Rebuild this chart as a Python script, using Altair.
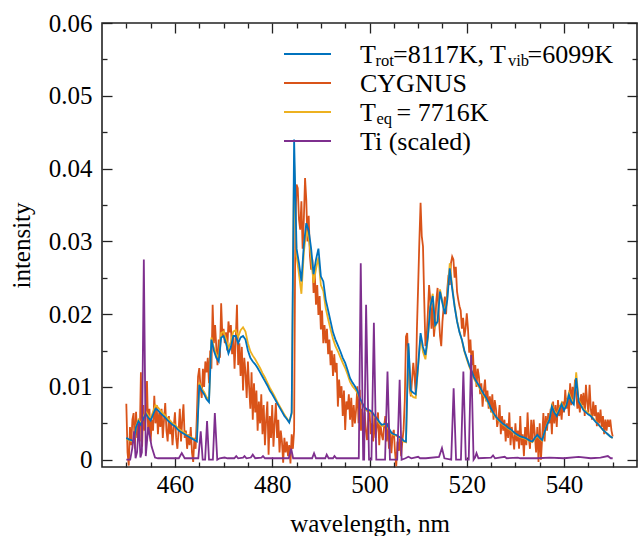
import altair as alt
import pandas as pd

FONT = "Liberation Serif"

# ---------------- data (intensity values in units of 1e-3) ----------------
# CYGNUS measured spectrum, 450.00 ... 550.00 nm, every 0.25 nm
cyg_start = 450.0
cyg_step = 0.25
cygnus_e3 = [
    7.7, 1.0, -0.8, 4.5, 2.0, 5.5, 6.4, 1.5, 6.6, 3.0, 5.0, 2.5, 12.0, 1.8, 7.5, 4.0, 6.0, 10.8, 3.5, 7.0,
    2.5, 5.5, 4.0, 8.8, 5.0, 7.5, 3.5, 6.5, 4.5, 7.0, 3.0, 5.5, 7.8, 4.0, 2.5, 6.0, 3.5, 5.0, 2.0, 4.5,
    6.5, 3.0, 1.5, 4.0, 7.0, 2.5, 5.5, 7.6, 3.0, 4.0, 1.5, 3.5, 2.0, 4.5, 1.0, -0.3, 3.0, 1.5, 6.0, 11.4,
    12.6, 10.0, 8.5, 12.5, 10.0, 13.5, 12.0, 14.0, 10.5, 15.0, 12.5, 21.3, 16.0, 18.5, 15.5, 13.0, 16.5, 14.0, 21.5, 17.0,
    18.0, 16.0, 17.5, 15.0, 19.0, 17.5, 18.5, 14.5, 17.0, 12.5, 16.5, 21.3, 13.0, 16.0, 11.5, 15.5, 9.5, 14.0, 12.0, 8.5,
    13.5, 10.0, 7.0, 12.0, 5.5, 10.5, 6.5, 9.5, 4.0, 8.0, 5.0, 9.0, 3.5, 7.5, 2.0, 5.5, 8.0, 0.7, 6.0, 3.0,
    7.5, 1.8, 5.0, 7.8, 3.0, 5.5, 1.0, 4.0, 2.5, -0.4, 3.0, 1.0, 2.5, 0.5, 2.0, -0.5, 3.5, 1.5, 4.0, 32.0,
    37.8, 37.3, 33.0, 31.6, 35.5, 29.0, 33.0, 38.7, 35.7, 30.0, 33.5, 28.0, 26.1, 27.5, 22.9, 25.5, 21.3, 24.0, 19.9, 22.5,
    17.9, 20.5, 16.0, 18.5, 16.0, 18.0, 14.5, 16.5, 13.0, 15.0, 11.5, 14.5, 12.0, 13.3, 7.3, 11.0, 8.5, 10.1, 6.0, 9.5,
    4.1, 8.0, 6.9, 9.0, 5.5, 8.5, 4.5, 7.5, 5.0, 6.9, 10.1, 5.0, 9.6, 4.0, 7.0, 2.7, 6.5, 4.0, 2.7, 5.5,
    6.9, 3.5, 5.0, 2.5, 6.0, 3.0, 4.5, 6.5, 2.0, 5.0, 3.5, 2.7, 4.5, 6.0, 2.5, 5.0, 1.5, 4.0, 0.9, 3.5,
    4.1, 1.0, -0.9, 2.5, 1.2, 3.0, 0.5, 2.5, 4.1, 8.0, 16.9, 17.4, 13.0, 10.0, 8.7, 11.0, 13.3, 11.5, 9.2, 18.0,
    23.8, 30.0, 35.3, 30.7, 29.3, 22.0, 15.6, 16.9, 20.1, 24.0, 22.0, 18.0, 21.5, 16.9, 18.8, 22.0, 23.6, 19.9, 17.0, 15.6,
    19.0, 21.0, 22.4, 20.0, 23.5, 25.4, 24.0, 27.0, 27.9, 27.5, 25.0, 26.5, 23.1, 22.0, 21.1, 20.5, 18.0, 19.5, 16.9, 18.0,
    20.1, 18.0, 14.7, 16.5, 13.0, 15.0, 11.4, 13.0, 10.0, 12.5, 11.4, 9.0, 10.5, 7.3, 9.5, 11.0, 8.0, 9.5, 7.0, 8.7,
    6.5, 9.0, 5.5, 8.2, 7.0, 4.5, 5.5, 7.5, 3.5, 6.0, 4.0, 5.5, 2.5, 5.0, 3.0, 6.5, 2.0, 4.5, 3.0, 1.4,
    5.0, 2.5, 4.0, 1.5, 6.0, 2.0, 3.5, 0.5, 4.5, 2.0, 6.5, 3.0, 1.5, 5.5, 2.5, 5.5, 3.5, 1.0, 4.5, -0.3,
    5.0, 0.0, 3.0, 6.4, 2.5, 6.0, 4.0, 6.4, 5.0, 7.0, 3.5, 8.0, 5.0, 7.5, 4.5, 8.2, 6.0, 7.5, 5.5, 8.0,
    6.5, 9.6, 7.0, 8.5, 6.0, 10.5, 7.5, 10.0, 8.2, 11.0, 9.0, 7.0, 8.5, 6.5, 9.0, 7.5, 9.2, 6.0, 10.3, 8.0,
    6.5, 10.3, 7.0, 5.5, 8.0, 6.0, 7.5, 4.6, 6.5, 5.0, 6.9, 4.5, 6.0, 3.5, 5.5, 4.0, 5.5, 4.5, 5.5, 4.0,
    3.2,
]

# model spectra, 450.0 ... 550.0 nm, every 0.5 nm
model_start = 450.0
model_step = 0.5
trotvib_e3 = [
    3.0, 2.8, 2.7, 2.5, 4.5, 5.3, 4.8, 5.6, 6.3, 5.8,
    5.4, 6.2, 7.0, 6.8, 6.4, 6.1, 5.8, 5.4, 5.1, 4.8,
    4.6, 4.2, 3.9, 3.7, 3.5, 3.3, 3.1, 2.9, 2.7, 2.5,
    10.3, 9.5, 9.0, 8.3, 7.9, 16.5, 15.0, 14.0, 13.5, 16.8,
    17.0, 16.0, 14.6, 15.5, 17.0, 17.0, 16.0, 16.8, 17.0, 16.5,
    15.0, 14.0, 13.5, 13.1, 12.6, 12.0, 11.4, 10.8, 10.2, 9.5,
    9.0, 8.4, 7.8, 7.2, 6.6, 6.0, 5.6, 5.1, 6.5, 44.0,
    29.0, 27.0, 24.5, 29.5, 32.5, 31.5, 29.0, 25.5, 27.5, 29.0,
    25.2, 24.5, 22.0, 20.5, 19.0, 17.5, 16.5, 15.7, 14.9, 14.0,
    13.3, 12.3, 11.2, 10.6, 10.1, 9.5, 8.5, 7.8, 7.2, 6.9,
    6.8, 6.6, 6.1, 5.7, 5.2, 4.8, 4.9, 5.0, 4.3, 3.7,
    3.5, 3.4, 3.2, 3.0, 2.6, 2.5, 16.0, 9.5, 9.2, 9.0,
    13.0, 17.4, 15.5, 14.4, 16.9, 21.0, 22.5, 18.5, 19.0, 23.1,
    21.5, 20.0, 22.0, 26.3, 23.5, 21.0, 19.0, 17.5, 16.5, 15.0,
    14.0, 13.0, 12.2, 11.3, 10.7, 10.2, 9.6, 9.0, 8.5, 7.8,
    7.0, 6.4, 5.9, 5.5, 5.2, 4.9, 4.7, 4.4, 4.2, 3.9,
    3.6, 3.4, 3.2, 3.1, 3.0, 2.8, 2.6, 2.5, 3.0, 3.4,
    3.0, 2.7, 3.8, 4.8, 5.5, 7.3, 6.5, 6.0, 6.8, 7.6,
    6.8, 7.5, 8.9, 8.0, 7.6, 11.2, 8.0, 7.4, 6.8, 6.5,
    6.2, 6.0, 5.6, 5.2, 4.9, 4.5, 4.1, 3.8, 3.5, 3.2,
    3.0,
]
teq_e3 = [
    2.9, 2.7, 2.6, 2.4, 4.6, 5.5, 5.0, 5.9, 6.6, 6.1,
    5.7, 6.6, 7.5, 7.2, 6.8, 6.4, 6.1, 5.7, 5.4, 5.0,
    4.8, 4.4, 4.1, 3.9, 3.7, 3.4, 3.2, 3.0, 2.8, 2.6,
    10.6, 9.8, 9.3, 8.6, 8.2, 16.8, 15.4, 14.5, 14.0, 17.4,
    17.6, 16.6, 15.3, 16.2, 17.6, 17.8, 16.9, 17.8, 18.2, 17.6,
    16.0, 14.9, 14.3, 13.8, 13.2, 12.6, 11.9, 11.3, 10.6, 9.9,
    9.3, 8.7, 8.0, 7.4, 6.8, 6.2, 5.7, 5.2, 6.3, 41.0,
    28.0, 25.5, 22.8, 28.5, 31.5, 30.5, 27.8, 24.3, 26.2, 27.8,
    24.0, 23.2, 20.8, 19.3, 17.9, 16.6, 15.6, 14.9, 14.1, 13.3,
    12.6, 11.7, 10.7, 10.1, 9.7, 9.2, 8.3, 7.6, 7.0, 6.7,
    6.6, 6.4, 5.9, 5.5, 5.0, 4.6, 4.7, 4.8, 4.1, 3.6,
    3.4, 3.3, 3.1, 2.9, 2.5, 2.4, 15.6, 9.0, 8.6, 8.5,
    12.7, 17.0, 14.8, 13.8, 16.7, 21.0, 22.8, 18.3, 19.0, 23.4,
    21.7, 20.2, 22.4, 27.0, 23.8, 21.2, 19.1, 17.6, 16.4, 14.9,
    13.8, 12.8, 12.0, 11.1, 10.5, 10.0, 9.4, 8.8, 8.3, 7.6,
    6.8, 6.2, 5.8, 5.4, 5.1, 4.8, 4.6, 4.3, 4.1, 3.8,
    3.5, 3.3, 3.1, 3.0, 2.9, 2.7, 2.5, 2.4, 2.9, 3.3,
    2.9, 2.6, 3.8, 4.9, 5.6, 7.5, 6.7, 6.2, 7.0, 7.8,
    7.0, 7.7, 9.2, 8.3, 7.8, 12.0, 8.2, 7.6, 7.0, 6.7,
    6.4, 6.1, 5.7, 5.3, 4.9, 4.5, 4.1, 3.8, 3.5, 3.2,
    3.0,
]

# Ti lines (scaled)
ti_wl = [
    450.0, 450.8, 451.2, 451.6, 451.9, 452.2, 452.6, 452.9, 453.2, 453.6,
    454.0, 454.5, 454.9, 455.2, 455.9, 456.5, 460.8, 461.4, 462.0, 464.8,
    465.3, 465.7, 466.2, 466.6, 467.0, 467.8, 468.2, 468.7, 469.2, 470.2,
    470.8, 472.2, 472.6, 473.0, 474.0, 474.3, 474.7, 475.6, 476.0, 476.5,
    477.8, 478.1, 478.5, 483.4, 483.9, 484.3, 488.2, 488.6, 489.0, 490.9,
    491.2, 491.6, 492.5, 492.8, 493.2, 497.8, 498.2, 498.7, 498.9, 499.3,
    499.9, 500.4, 500.9, 501.4, 503.2, 503.7, 504.2, 505.7, 506.2, 506.6,
    507.4, 508.0, 508.6, 510.0, 510.4, 511.6, 514.3, 514.9, 515.4, 516.8,
    517.3, 517.8, 518.8, 519.3, 519.8, 520.4, 520.9, 521.4, 521.7, 522.0,
    522.4, 525.0, 525.4, 525.8, 527.8, 528.2, 530.5, 531.0, 534.5, 537.0,
    540.0, 543.0, 545.5, 547.5, 549.0, 549.6, 550.0,
]
ti_e3 = [
    0.0, 0.0, 1.5, 3.9, 0.2, 1.0, 5.0, 0.3, 1.0, 27.5,
    0.5, 4.5, 3.0, 1.8, 0.3, 0.2, 0.2, 0.9, 0.2, 0.2,
    3.9, 0.0, 0.0, 5.3, 0.0, 0.0, 6.4, 0.0, 0.2, 0.3,
    0.2, 0.2, 0.5, 0.2, 0.3, 0.5, 0.2, 0.3, 0.7, 0.2,
    0.3, 0.5, 0.2, 0.2, 1.5, 0.2, 0.2, 0.9, 0.2, 0.2,
    0.7, 0.2, 0.2, 0.5, 0.2, 0.2, 27.0, 0.0, 0.0, 21.3,
    0.0, 0.0, 18.8, 0.0, 0.0, 12.1, 0.0, 0.0, 11.0, 0.0,
    0.2, 0.4, 0.2, 0.4, 0.2, 0.2, 0.4, 1.6, 0.2, 0.0,
    9.8, 0.0, 0.0, 12.1, 0.0, 0.0, 14.4, 0.0, 0.3, 0.9,
    0.2, 0.3, 0.6, 0.2, 0.4, 0.2, 0.3, 0.2, 0.2, 0.3,
    0.2, 0.4, 0.2, 0.3, 0.5, 0.2, 0.2,
]

x_major = [460, 480, 500, 520, 540]
x_minor = [450, 455, 465, 470, 475, 485, 490, 495, 505, 510, 515, 525, 530, 535, 545, 550]
y_major = [0, 0.01, 0.02, 0.03, 0.04, 0.05, 0.06]
y_minor = [0.005, 0.015, 0.025, 0.035, 0.045, 0.055]

series_names = ["T_rot=8117K, T_vib=6099K", "CYGNUS", "T_eq = 7716K", "Ti (scaled)"]
series_colors = ["#0072BD", "#D95319", "#EDB120", "#7E2F8E"]

# ---------------- tables ----------------
cyg_df = pd.DataFrame({"wl": [cyg_start + cyg_step * i for i in range(len(cygnus_e3))],
                       "I": [v / 1000 for v in cygnus_e3]})
model_wl = [model_start + model_step * i for i in range(len(trotvib_e3))]
rv_df = pd.DataFrame({"wl": model_wl, "I": [v / 1000 for v in trotvib_e3]})
eq_df = pd.DataFrame({"wl": model_wl, "I": [v / 1000 for v in teq_e3]})
ti_df = pd.DataFrame({"wl": ti_wl, "I": [v / 1000 for v in ti_e3]})
one = pd.DataFrame({"k": [0]})

xs = alt.Scale(domain=[445, 555], nice=False, zero=False)
ys = alt.Scale(domain=[-0.001, 0.06], nice=False, zero=False)

common = dict(domain=False, grid=False, tickColor="#222", tickWidth=1.3,
              labelFont=FONT, labelFontSize=25, labelColor="black",
              titleFont=FONT, titleFontSize=25, titleFontWeight="normal", titleColor="black",
              labelFlush=False, labelOverlap=False)

MAJ, MIN = 10, 5

ax_bottom = alt.Axis(orient="bottom", values=x_major, offset=-MAJ, tickSize=MAJ, format="d",
                     labelPadding=5, title="wavelength, nm", titlePadding=14, **common)
ax_bottom_min = alt.Axis(orient="bottom", values=x_minor, offset=-MIN, tickSize=MIN,
                         labels=False, title=None, **common)
ax_top = alt.Axis(orient="top", values=x_major, offset=-MAJ, tickSize=MAJ,
                  labels=False, title=None, **common)
ax_top_min = alt.Axis(orient="top", values=x_minor, offset=-MIN, tickSize=MIN,
                      labels=False, title=None, **common)

ax_left = alt.Axis(orient="left", values=y_major, offset=-MAJ, tickSize=MAJ,
                   labelExpr="datum.value == 0 ? '0' : format(datum.value, '.2f')",
                   labelPadding=10, title="intensity", titlePadding=14, **common)
ax_left_min = alt.Axis(orient="left", values=y_minor, offset=-MIN, tickSize=MIN,
                       labels=False, title=None, **common)
ax_right = alt.Axis(orient="right", values=y_major, offset=-MAJ, tickSize=MAJ,
                    labels=False, title=None, **common)
ax_right_min = alt.Axis(orient="right", values=y_minor, offset=-MIN, tickSize=MIN,
                        labels=False, title=None, **common)


def line(df, color, xa, ya):
    return alt.Chart(df).mark_line(color=color, strokeWidth=1.8, clip=True).encode(
        x=alt.X("wl:Q", scale=xs, axis=xa),
        y=alt.Y("I:Q", scale=ys, axis=ya),
    )


layers = [
    line(cyg_df, series_colors[1], ax_bottom, ax_left),
    line(eq_df, series_colors[2], ax_bottom_min, ax_left_min),
    line(rv_df, series_colors[0], ax_top, ax_right),
    line(ti_df, series_colors[3], ax_top_min, ax_right_min),
]

# ---------------- legend (drawn by hand for the subscripts) ----------------
# positions are relative to the plot area's top-left corner
LEG_X0, LEG_X1, LEG_Y0, LEG_DY = 182, 229, 31, 29
for i, c in enumerate(series_colors):
    layers.append(alt.Chart(one).mark_rule(color=c, strokeWidth=2.2).encode(
        x=alt.value(LEG_X0), x2=alt.value(LEG_X1), y=alt.value(LEG_Y0 + LEG_DY * i)))

BIG, SMALL = 26, 16.5
# (text, x, row, is_subscript)
legend_pieces = [
    ("T", 258, 0, False), ("rot", 273.5, 0, True), ("=8117K, T", 291, 0, False),
    ("vib", 406, 0, True), ("=6099K", 425.5, 0, False),
    ("CYGNUS", 258, 1, False),
    ("T", 258, 2, False), ("eq", 274.5, 2, True), ("= 7716K", 294.5, 2, False),
    ("Ti (scaled)", 258, 3, False),
]
for txt, x, row, sub in legend_pieces:
    base = LEG_Y0 + LEG_DY * row + 8.5 + (3 if sub else 0)
    layers.append(alt.Chart(one).mark_text(
        font=FONT, fontSize=SMALL if sub else BIG, color="black",
        align="left", baseline="alphabetic").encode(
        x=alt.value(x), y=alt.value(base), text=alt.value(txt)))

chart = alt.layer(*layers).resolve_axis(x="independent", y="independent").properties(
    width=535, height=444,
    autosize=alt.AutoSizeParams(type="none"),
    padding={"left": 102, "top": 23, "right": 1, "bottom": 69},
    background="white",
).configure_view(stroke="#222", strokeWidth=1.6)

chart.save("out.html", embed_options={"renderer": "svg", "actions": False})
